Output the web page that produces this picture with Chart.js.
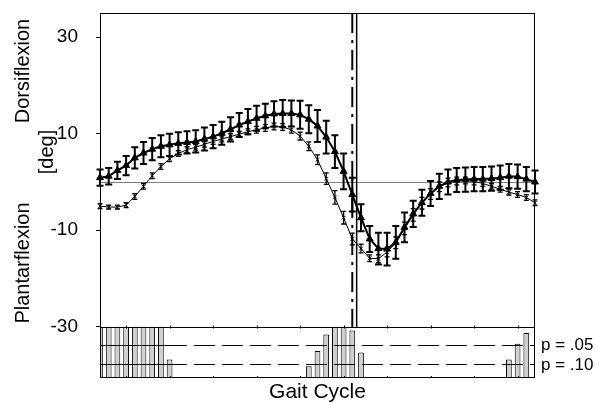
<!DOCTYPE html>
<html>
<head>
<meta charset="utf-8">
<script src="https://cdn.jsdelivr.net/npm/chart.js@4"></script>
<style>
  html, body { margin: 0; padding: 0; background: #fff; }
  #wrap { width: 607px; height: 403px; }
</style>
</head>
<body>
<div id="wrap"><canvas id="gait"></canvas></div>
<script>
// gait cycle in %, one sample every 2%
const gaitPct = [0, 2, 4, 6, 8, 10, 12, 14, 16, 18, 20, 22, 24, 26, 28, 30, 32, 34, 36, 38, 40,
  42, 44, 46, 48, 50, 52, 54, 56, 58, 60, 62, 64, 66, 68, 70, 72, 74, 76, 78, 80,
  82, 84, 86, 88, 90, 92, 94, 96, 98, 100];

// triangles, thick line
const ankleA = [0.9, 1.2, 2.4, 3.4, 5.0, 6.0, 6.8, 7.4, 7.7, 8.0, 8.2, 8.4, 8.9, 9.4, 10.1, 10.9, 11.8,
  12.5, 13.2, 13.7, 14.1, 14.2, 14.2, 13.9, 13.0, 11.6, 9.3, 6.3, 2.2, -2.6, -7.4, -11.8, -13.8,
  -13.9, -12.5, -9.4, -6.6, -4.3, -2.4, -0.9, 0.0, 0.4, 0.5, 0.6, 0.6, 0.7, 0.9, 1.2, 1.1, 0.6, 0.0];
const errA = [1.7, 1.7, 1.8, 2.0, 2.2, 2.3, 2.3, 2.3, 2.3, 2.3, 2.3, 2.3, 2.4, 2.4, 2.4, 2.5, 2.5,
  2.6, 2.6, 2.5, 2.6, 2.8, 2.7, 2.9, 2.9, 3.3, 3.4, 3.4, 3.7, 3.5, 2.8, 2.7, 3.3,
  3.4, 3.4, 3.1, 2.7, 2.7, 2.6, 2.6, 2.6, 2.5, 2.5, 2.5, 2.5, 2.5, 2.5, 2.5, 2.5, 2.5, 2.4];

// small markers, thin line
const ankleB = [-5.0, -5.2, -5.2, -4.8, -3.0, -0.9, 1.3, 3.2, 4.8, 5.9, 6.7, 7.2, 7.8, 8.4, 8.9, 9.4, 9.9,
  10.4, 10.8, 11.2, 11.5, 11.4, 10.8, 9.5, 7.4, 4.6, 0.7, -3.2, -7.4, -11.8, -13.8, -15.8, -15.9,
  -14.5, -12.6, -9.6, -6.8, -4.4, -2.5, -1.0, -0.1, 0.2, 0.3, 0.1, -0.3, -0.9, -1.5, -2.1, -2.6, -3.2, -4.3];
const errB = [0.5, 0.4, 0.4, 0.5, 0.6, 0.6, 0.6, 0.6, 0.6, 0.6, 0.6, 0.6, 0.6, 0.6, 0.6, 0.6, 0.6,
  0.6, 0.7, 0.7, 0.7, 0.7, 0.7, 0.8, 0.9, 1.0, 1.2, 1.4, 1.3, 1.2, 0.9, 0.7, 0.8,
  1.0, 1.2, 1.3, 1.3, 1.2, 1.1, 1.0, 0.9, 0.8, 0.7, 0.7, 0.6, 0.6, 0.6, 0.6, 0.6, 0.6, 0.6];

// significance bars, fraction of the lower panel height
const sigHeight = [1, 1, 1, 1, 1, 1, 1, 1, 0.36, 0, 0, 0, 0, 0, 0, 0, 0,
  0, 0, 0, 0, 0, 0, 0, 0.23, 0.53, 0.85, 1, 1, 0.93, 0.5, 0, 0,
  0, 0, 0, 0, 0, 0, 0, 0, 0, 0, 0, 0, 0, 0, 0.36, 0.67, 0.88, 0];

const yTicks = [30, 10, -10, -30];
const pLevels = [{ text: 'p = .05', y: -33.7 }, { text: 'p = .10', y: -37.7 }];
const toeOff = { dashDot: 58, solid: 59 };

const Y_MIN = -40.6, Y_MAX = 35, PANEL_TOP = -30;
const FONT = '"Liberation Sans", Arial, sans-serif';

function drawErrBars(ctx, xs, ys, vals, errs, lw, cap) {
  ctx.save();
  ctx.strokeStyle = '#000';
  ctx.lineWidth = lw;
  ctx.beginPath();
  gaitPct.forEach((g, i) => {
    const x = xs.getPixelForValue(g);
    const top = ys.getPixelForValue(vals[i] + errs[i]);
    const bot = ys.getPixelForValue(vals[i] - errs[i]);
    ctx.moveTo(x, top); ctx.lineTo(x, bot);
    ctx.moveTo(x - cap, top); ctx.lineTo(x + cap, top);
    ctx.moveTo(x - cap, bot); ctx.lineTo(x + cap, bot);
  });
  ctx.stroke();
  ctx.restore();
}

function vText(ctx, txt, x, y) {
  ctx.save();
  ctx.translate(x, y);
  ctx.rotate(-Math.PI / 2);
  ctx.textAlign = 'center';
  ctx.textBaseline = 'middle';
  ctx.fillText(txt, 0, 0);
  ctx.restore();
}

const overlay = {
  id: 'overlay',
  beforeDatasetsDraw(chart) {
    const { ctx, chartArea: a, scales: { y } } = chart;
    const y0 = Math.round(y.getPixelForValue(0)) + 0.5;
    ctx.save();
    ctx.strokeStyle = '#808080';
    ctx.lineWidth = 1;
    ctx.beginPath();
    ctx.moveTo(a.left, y0); ctx.lineTo(a.right, y0);
    ctx.stroke();
    ctx.restore();
  },
  afterDatasetsDraw(chart) {
    const { ctx, chartArea: a, scales: { x, y } } = chart;
    drawErrBars(ctx, x, y, ankleA, errA, 2, 3.5);
    drawErrBars(ctx, x, y, ankleB, errB, 1.3, 2.5);

    const yPanel = Math.round(y.getPixelForValue(PANEL_TOP)) + 0.5;

    // toe-off lines
    ctx.save();
    ctx.strokeStyle = '#000';
    ctx.lineWidth = 2;
    ctx.setLineDash([20, 7, 3, 7]);
    let xv = x.getPixelForValue(toeOff.dashDot);
    ctx.beginPath(); ctx.moveTo(xv, a.top); ctx.lineTo(xv, yPanel); ctx.stroke();
    ctx.setLineDash([]);
    ctx.lineWidth = 1.5;
    xv = x.getPixelForValue(toeOff.solid);
    ctx.beginPath(); ctx.moveTo(xv, a.top); ctx.lineTo(xv, yPanel); ctx.stroke();

    // panel separator
    ctx.lineWidth = 1;
    ctx.beginPath(); ctx.moveTo(a.left, yPanel); ctx.lineTo(a.right, yPanel); ctx.stroke();

    // p-level lines
    const xBreak = x.getPixelForValue(20);
    pLevels.forEach(p => {
      const py = Math.round(y.getPixelForValue(p.y)) + 0.5;
      ctx.setLineDash([]);
      ctx.beginPath(); ctx.moveTo(a.left, py); ctx.lineTo(xBreak, py); ctx.stroke();
      ctx.setLineDash([21, 7]);
      ctx.lineDashOffset = 21;
      ctx.beginPath(); ctx.moveTo(xBreak, py); ctx.lineTo(a.right, py); ctx.stroke();
      ctx.lineDashOffset = 0;
    });
    ctx.setLineDash([]);

    // small ticks on the panel
    ctx.beginPath();
    for (let t = 6; t < 100; t += 10) {
      const tx = Math.round(x.getPixelForValue(t)) + 0.5;
      ctx.moveTo(tx, yPanel - 2); ctx.lineTo(tx, yPanel + 1);
      ctx.moveTo(tx, a.bottom - 2); ctx.lineTo(tx, a.bottom);
    }
    ctx.stroke();

    // frame
    ctx.strokeRect(Math.round(a.left) + 0.5, Math.round(a.top) + 0.5,
      Math.round(a.right - a.left) - 1, Math.round(a.bottom - a.top) - 1);

    // texts
    ctx.fillStyle = '#000';
    ctx.font = '20px ' + FONT;
    vText(ctx, 'Dorsiflexion', 23, 71);
    vText(ctx, 'Plantarflexion', 23, 263);
    vText(ctx, '[deg]', 47, 152);
    ctx.textAlign = 'left';
    ctx.textBaseline = 'middle';
    ctx.font = '17px ' + FONT;
    pLevels.forEach(p => ctx.fillText(p.text, a.right + 6, y.getPixelForValue(p.y) + 1));
    ctx.restore();
  }
};

const ctx = document.getElementById('gait').getContext('2d');
new Chart(ctx, {
  type: 'line',
  data: {
    datasets: [
      {
        type: 'line',
        label: 'A',
        data: gaitPct.map((g, i) => ({ x: g, y: ankleA[i] })),
        borderColor: '#000',
        borderWidth: 2,
        pointStyle: 'triangle',
        pointRadius: 4,
        pointBackgroundColor: '#000',
        pointBorderColor: '#000',
        pointBorderWidth: 1,
        tension: 0,
        clip: false,
        order: 1
      },
      {
        type: 'line',
        label: 'B',
        data: gaitPct.map((g, i) => ({ x: g, y: ankleB[i] })),
        borderColor: '#000',
        borderWidth: 1,
        pointStyle: 'crossRot',
        pointRadius: 2.5,
        pointBorderColor: '#000',
        pointBorderWidth: 1,
        tension: 0,
        clip: false,
        order: 2
      },
      {
        type: 'bar',
        label: 'sig',
        data: gaitPct
          .map((g, i) => ({ x: g, y: [Y_MIN, Y_MIN + sigHeight[i] * (PANEL_TOP - Y_MIN)], h: sigHeight[i] }))
          .filter(d => d.h > 0),
        backgroundColor: '#d0d0d0',
        borderColor: '#000',
        borderWidth: 1,
        borderSkipped: false,
        barPercentage: 0.66,
        categoryPercentage: 1,
        grouped: false,
        order: 3
      }
    ]
  },
  options: {
    responsive: true,
    maintainAspectRatio: false,
    animation: false,
    devicePixelRatio: 1,
    layout: { padding: { top: 13, right: 72, left: 0, bottom: 0 } },
    plugins: { legend: { display: false }, tooltip: { enabled: false } },
    scales: {
      x: {
        type: 'linear',
        min: 0,
        max: 100,
        offset: false,
        grid: { display: false },
        border: { display: false },
        ticks: { display: false },
        title: { display: true, text: 'Gait Cycle', color: '#000', font: { family: FONT, size: 21, lineHeight: 1 }, padding: { top: 0, bottom: 0 } },
        afterFit: s => { s.height = 25; s.paddingLeft = 0; s.paddingRight = 0; }
      },
      y: {
        min: Y_MIN,
        max: Y_MAX,
        afterBuildTicks: s => { s.ticks = yTicks.map(v => ({ value: v })); },
        afterFit: s => { s.width = 100; s.paddingTop = 0; s.paddingBottom = 0; },
        grid: { drawOnChartArea: false, drawTicks: true, tickLength: 4, color: '#000' },
        border: { display: false },
        ticks: { color: '#000', padding: 18, font: { family: FONT, size: 19 } }
      }
    }
  },
  plugins: [overlay]
});
</script>
</body>
</html>
